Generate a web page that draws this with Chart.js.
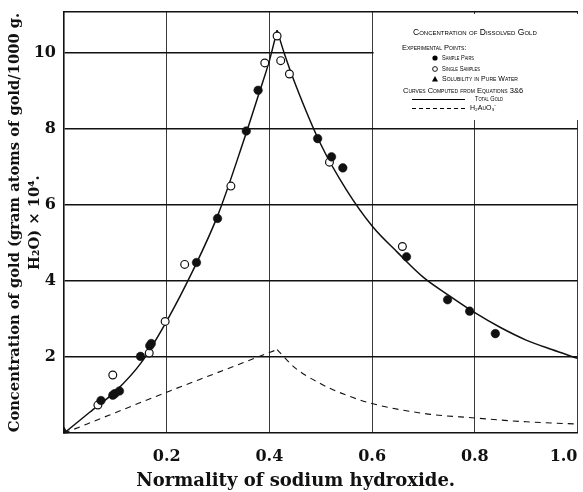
<!DOCTYPE html>
<html><head><meta charset="utf-8">
<script src="https://cdn.jsdelivr.net/npm/chart.js@4.4.1/dist/chart.umd.min.js"></script>
<style>html,body{margin:0;padding:0;background:#fff}#wrap{width:583px;height:492px;position:relative}</style>
</head><body><div id="wrap"><canvas id="c"></canvas></div>
<script>
// ---- data ----
const xTicks = [0, 0.2, 0.4, 0.6, 0.8, 1.0];
const yTicks = [0, 2, 4, 6, 8, 10];

// Experimental points: sample pairs (filled circles)
const pairX = [0.072, 0.095, 0.099, 0.108, 0.149, 0.167, 0.170, 0.258, 0.299, 0.355, 0.378, 0.494, 0.521, 0.543, 0.667, 0.747, 0.790, 0.840];
const pairY = [0.86, 1.00, 1.04, 1.11, 2.02, 2.30, 2.36, 4.49, 5.65, 7.95, 9.02, 7.75, 7.27, 6.98, 4.64, 3.51, 3.21, 2.62];

// Experimental points: single samples (open circles)
const singleX = [0.066, 0.095, 0.166, 0.197, 0.235, 0.325, 0.391, 0.415, 0.422, 0.439, 0.517, 0.659];
const singleY = [0.74, 1.53, 2.11, 2.94, 4.44, 6.50, 9.74, 10.45, 9.80, 9.45, 7.13, 4.91];

// Solubility in pure water (triangle)
const waterX = [0];
const waterY = [0.04];

// Computed curve: total gold (rising and falling branches, cusp at peak)
const totalUpX = [0, 0.05, 0.10, 0.15, 0.20, 0.25, 0.30, 0.35, 0.38, 0.40, 0.415];
const totalUpY = [0, 0.55, 1.10, 1.85, 2.95, 4.25, 5.75, 7.70, 8.95, 9.80, 10.60];
const totalDownX = [0.415, 0.43, 0.45, 0.50, 0.55, 0.60, 0.65, 0.70, 0.75, 0.80, 0.85, 0.90, 0.95, 1.00];
const totalDownY = [10.60, 9.95, 9.20, 7.60, 6.40, 5.45, 4.75, 4.10, 3.62, 3.17, 2.78, 2.45, 2.20, 1.97];

// Computed curve: H2AuO3- ion
const ionUpX = [0, 0.10, 0.20, 0.30, 0.415];
const ionUpY = [0, 0.54, 1.08, 1.60, 2.20];
const ionDownX = [0.415, 0.45, 0.50, 0.55, 0.60, 0.70, 0.80, 0.90, 1.00];
const ionDownY = [2.20, 1.72, 1.30, 1.00, 0.78, 0.52, 0.40, 0.30, 0.24];

const xTitle = 'Normality of sodium hydroxide.        ';
const yTitle = ['Concentration of gold (gram atoms of gold/1000 g.', 'H\u2082O) \u00d7 10\u2074.'];
const legendTitle = 'Concentration of Dissolved Gold';
const legendHead1 = 'Experimental Points:';
const legendItems = ['Sample Pairs', 'Single Samples', 'Solubility in Pure Water'];
const legendHead2 = 'Curves Computed from Equations 3&6';
const legendCurves = ['Total Gold', 'H\u2082AuO\u2083\u207b'];

function pts(xs, ys) { return xs.map((x, i) => ({x: x, y: ys[i]})); }

const INK = '#111';
const serif = {family: '"DejaVu Serif"', weight: 'bold'};

const legendPlugin = {
  id: 'paperLegend',
  beforeDatasetsDraw(chart) {
    const ctx = chart.ctx, ca = chart.chartArea, xs = chart.scales.x;
    ctx.save();
    ctx.fillStyle = '#fff';
    const x0 = xs.getPixelForValue(0.6) + 1.5;
    ctx.fillRect(x0, ca.top + 2, ca.right + 10 - x0, 118 - ca.top);
    ctx.restore();
  },
  afterDraw(chart) {
    const ctx = chart.ctx;
    ctx.save();
    ctx.fillStyle = '#000'; ctx.strokeStyle = '#000'; ctx.textBaseline = 'middle'; ctx.textAlign = 'left';
    const txt = (s, x, y, w, size) => { ctx.font = 'small-caps ' + size + 'px "Liberation Sans"'; ctx.fillText(s, x, y, w); };
    txt(legendTitle, 413, 33, 134, 8.5);
    txt(legendHead1, 402, 48, 70, 7.5);
    ctx.beginPath(); ctx.arc(435, 58, 2.6, 0, Math.PI * 2); ctx.fill();
    txt(legendItems[0], 442, 58, 32, 7);
    ctx.beginPath(); ctx.arc(435, 69, 2.4, 0, Math.PI * 2); ctx.lineWidth = 0.9; ctx.stroke();
    txt(legendItems[1], 442, 69, 38, 7);
    ctx.beginPath(); ctx.moveTo(435, 76); ctx.lineTo(438, 81.5); ctx.lineTo(432, 81.5); ctx.closePath(); ctx.fill();
    txt(legendItems[2], 442, 79, 86, 7);
    txt(legendHead2, 403, 91, 140, 7.5);
    ctx.lineWidth = 1.2;
    ctx.beginPath(); ctx.moveTo(412, 99.5); ctx.lineTo(465, 99.5); ctx.stroke();
    txt(legendCurves[0], 475, 99.5, 28, 7);
    ctx.setLineDash([4, 3]);
    ctx.beginPath(); ctx.moveTo(412, 108.5); ctx.lineTo(465, 108.5); ctx.stroke();
    ctx.setLineDash([]);
    txt(legendCurves[1], 470, 108.5, 27, 7);
    ctx.restore();
  }
};

const lineDs = (label, xs, ys, dash, w) => ({
  label: label, data: pts(xs, ys), showLine: true, pointRadius: 0, pointHoverRadius: 0,
  borderColor: INK, borderWidth: w, borderDash: dash, cubicInterpolationMode: 'monotone', fill: false, order: 2
});

new Chart(document.getElementById('c'), {
  type: 'scatter',
  data: {
    datasets: [
      {label: legendItems[0], data: pts(pairX, pairY), pointRadius: 4.3, backgroundColor: INK, borderColor: INK, borderWidth: 0.5, order: 0},
      {label: legendItems[1], data: pts(singleX, singleY), pointRadius: 3.9, backgroundColor: '#fff', borderColor: INK, borderWidth: 1.2, order: 0},
      {label: legendItems[2], data: pts(waterX, waterY), pointStyle: 'triangle', pointRadius: 4.5, backgroundColor: INK, borderColor: INK, order: 0},
      lineDs(legendCurves[0], totalUpX, totalUpY, [], 1.5),
      lineDs(legendCurves[0], totalDownX, totalDownY, [], 1.5),
      lineDs(legendCurves[1], ionUpX, ionUpY, [6, 5], 1.1),
      lineDs(legendCurves[1], ionDownX, ionDownY, [6, 5], 1.1)
    ]
  },
  options: {
    responsive: true, maintainAspectRatio: false, animation: false,
    layout: {padding: {top: 12, right: 0, bottom: 0, left: 0}},
    plugins: {legend: {display: false}, tooltip: {enabled: false}},
    scales: {
      x: {
        type: 'linear', min: 0, max: 1.0,
        afterBuildTicks: s => { s.ticks = xTicks.map(v => ({value: v})); },
        afterFit: s => { s.paddingRight = 5; s.height = s.height - 14; },
        ticks: {callback: v => v === 0 ? '' : Number(v).toFixed(1), align: 'inner', padding: 14, color: INK, font: Object.assign({size: 16}, serif)},
        grid: {drawTicks: false, color: c => (c.tick && c.tick.value === 0) ? 'rgba(0,0,0,0)' : '#3a3a3a', lineWidth: 1},
        border: {display: true, color: INK, width: 1.6},
        title: {display: true, text: xTitle, color: INK, font: Object.assign({size: 18, lineHeight: 1.2}, serif), padding: {top: 4, bottom: 0}}
      },
      xTop: {
        type: 'linear', position: 'top', min: 0, max: 1.0,
        ticks: {display: false}, grid: {display: false, drawTicks: false},
        border: {display: true, color: INK, width: 1.6}
      },
      y: {
        type: 'linear', min: 0, max: 11.08,
        afterBuildTicks: s => { s.ticks = yTicks.map(v => ({value: v})); },
        afterFit: s => { s.width = 64; s.paddingTop = 0; s.paddingBottom = 0; },
        ticks: {callback: v => v === 0 ? '' : String(v), padding: 8, color: INK, font: Object.assign({size: 16}, serif)},
        grid: {drawTicks: false, color: c => (c.tick && c.tick.value === 0) ? 'rgba(0,0,0,0)' : INK, lineWidth: 1.6},
        border: {display: true, color: INK, width: 1.6},
        title: {display: true, text: yTitle, color: INK, font: Object.assign({size: 14.7, lineHeight: '20px'}, serif), padding: {top: 5, bottom: 0}}
      }
    }
  },
  plugins: [legendPlugin]
});
</script>
</body></html>
